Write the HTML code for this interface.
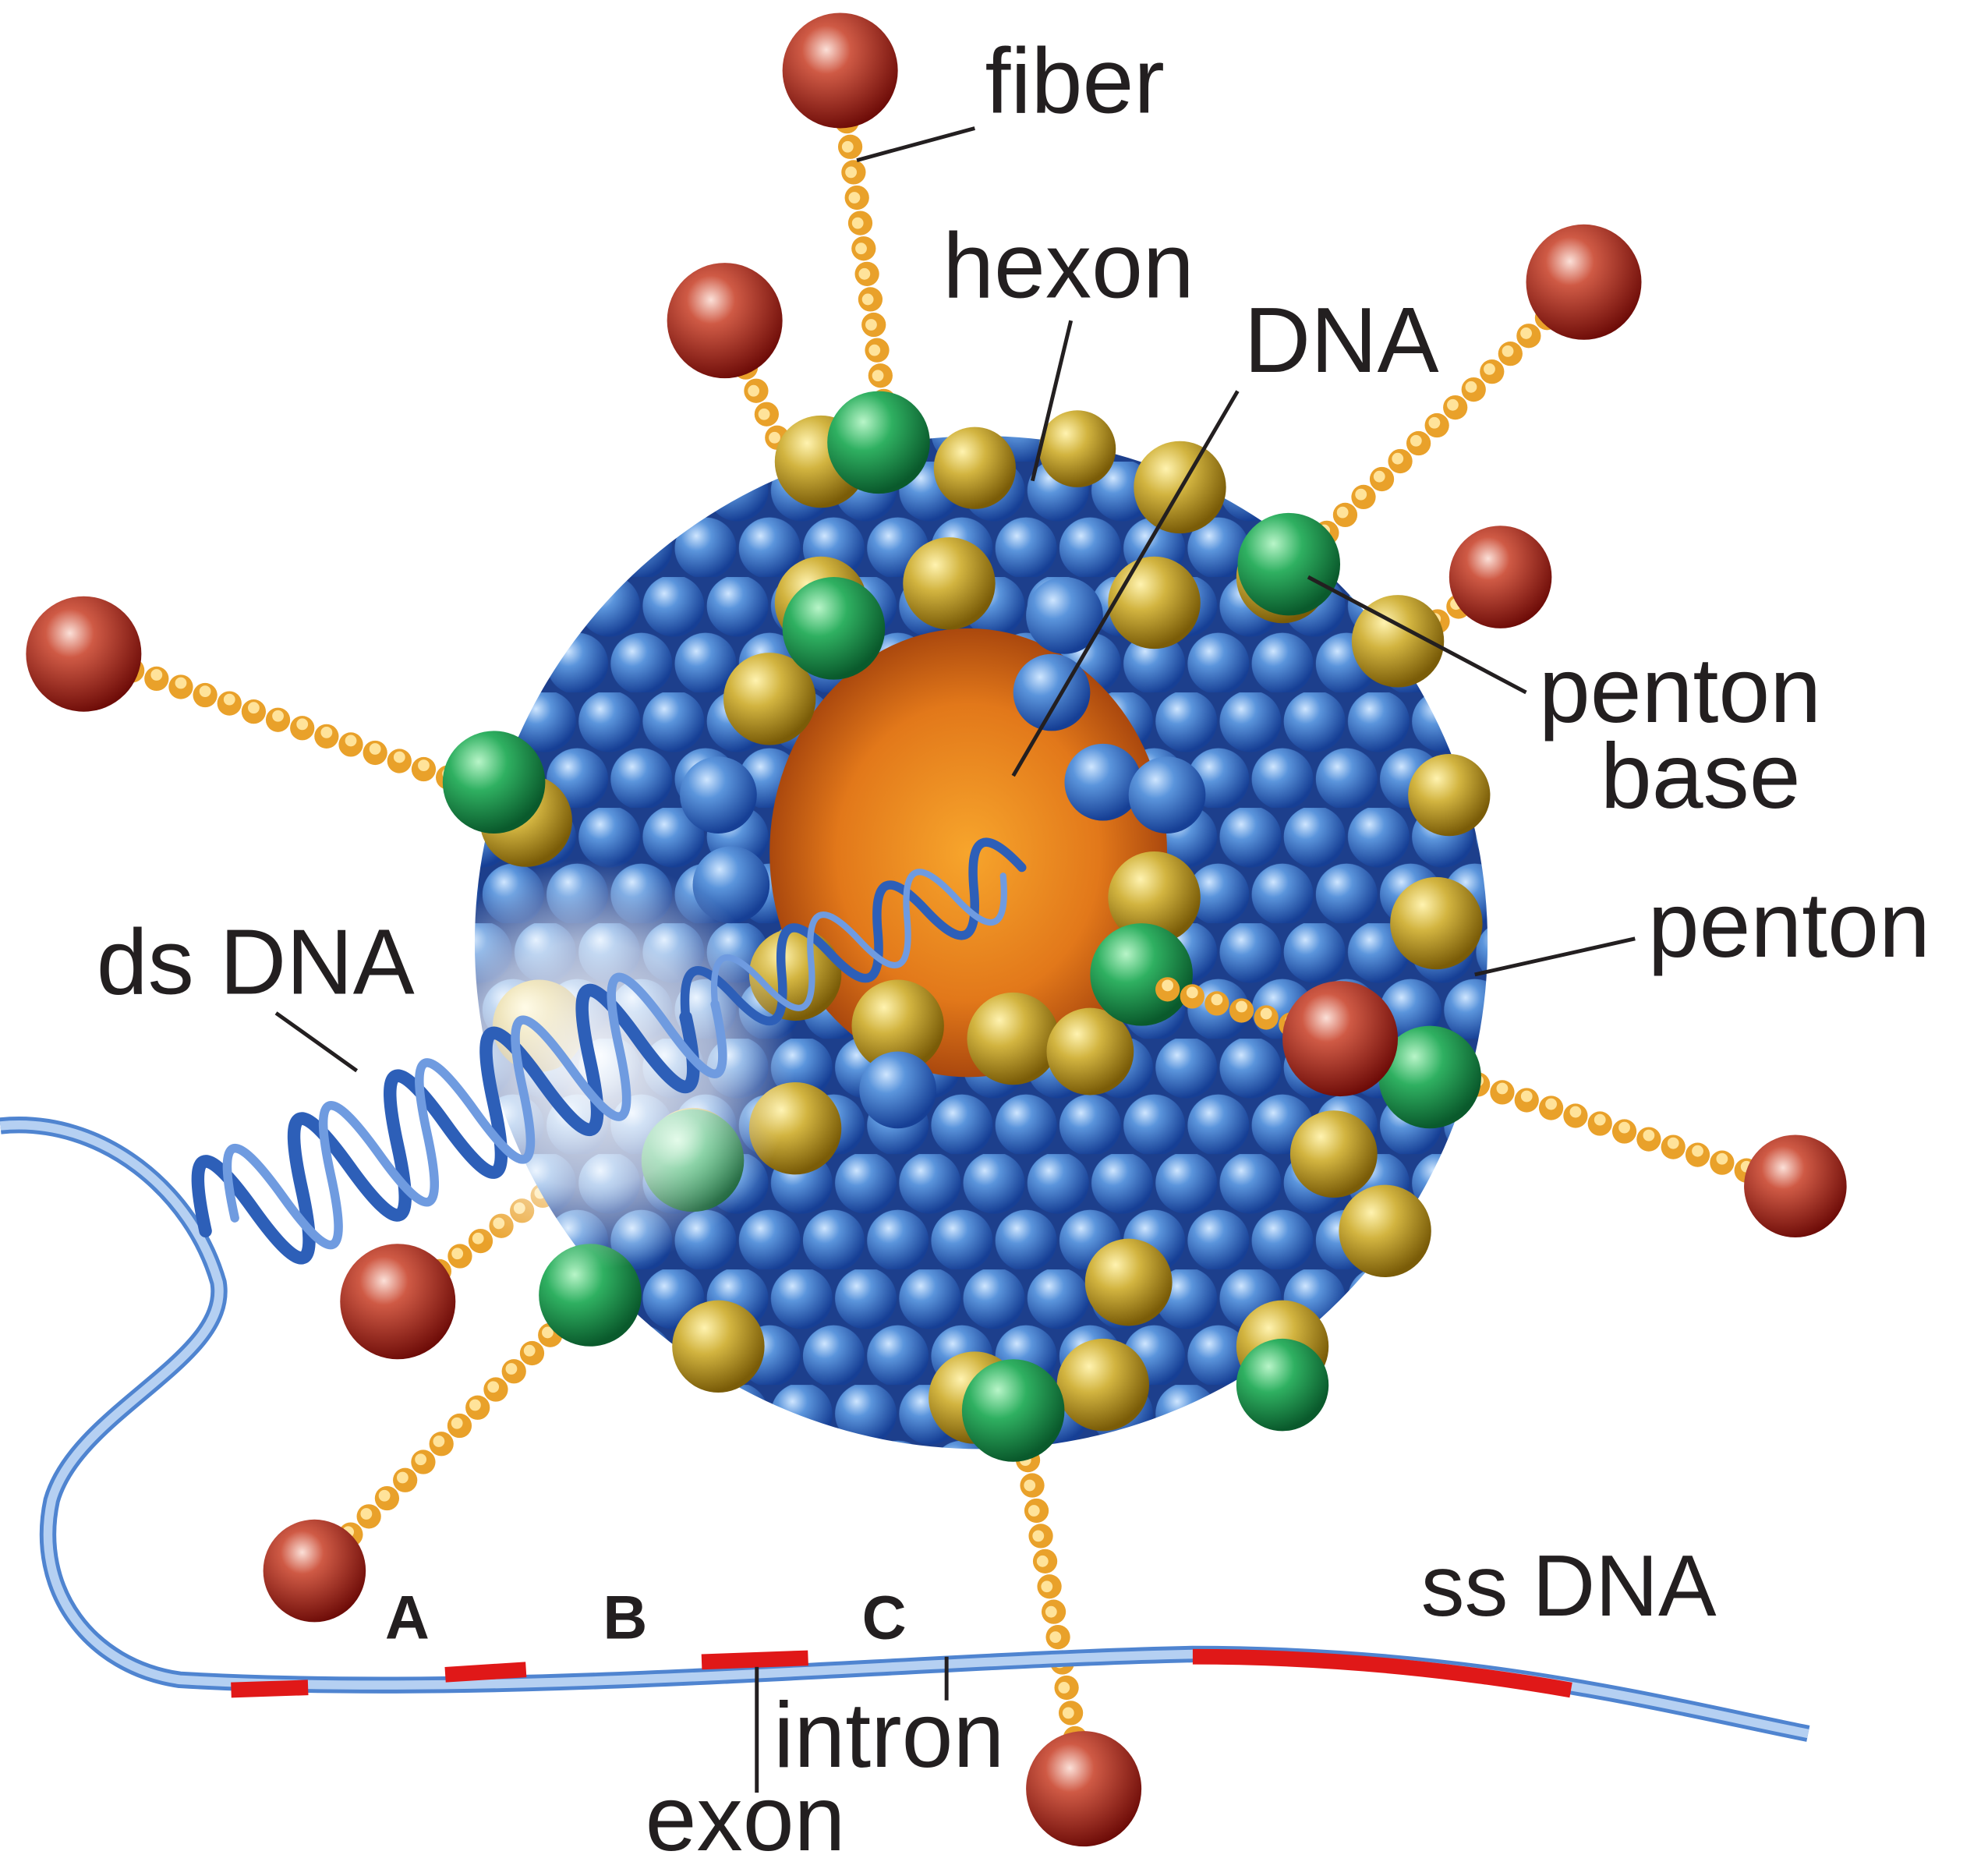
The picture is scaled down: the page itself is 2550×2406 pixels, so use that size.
<!DOCTYPE html>
<html><head><meta charset="utf-8">
<style>
html,body{margin:0;padding:0;background:#fff;}
svg{display:block;}
text{font-family:"Liberation Sans","DejaVu Sans",sans-serif;fill:#231f20;}
</style></head>
<body>
<svg width="2550" height="2406" viewBox="0 0 1550 1463" xmlns="http://www.w3.org/2000/svg">
<defs>
<radialGradient id="gb" cx="35%" cy="30%" r="70%"><stop offset="0" stop-color="#cfe6ff"/><stop offset="0.35" stop-color="#5b95dc"/><stop offset="1" stop-color="#163f95"/></radialGradient>
<radialGradient id="gg" cx="35%" cy="30%" r="70%"><stop offset="0" stop-color="#fff3b0"/><stop offset="0.4" stop-color="#d2b440"/><stop offset="1" stop-color="#7a5c08"/></radialGradient>
<radialGradient id="gn" cx="35%" cy="30%" r="70%"><stop offset="0" stop-color="#b8f5c8"/><stop offset="0.4" stop-color="#2fb061"/><stop offset="1" stop-color="#0a5a2c"/></radialGradient>
<radialGradient id="gr" cx="38%" cy="32%" r="70%"><stop offset="0" stop-color="#fbe0d8"/><stop offset="0.3" stop-color="#cf5a45"/><stop offset="1" stop-color="#6e0c08"/></radialGradient>
<radialGradient id="gc" cx="50%" cy="50%" r="55%"><stop offset="0" stop-color="#f7a52c"/><stop offset="0.6" stop-color="#e2781a"/><stop offset="1" stop-color="#9a3a0a"/></radialGradient>
<radialGradient id="gw" cx="50%" cy="50%" r="50%"><stop offset="0" stop-color="#fff" stop-opacity="0.95"/><stop offset="0.6" stop-color="#fff" stop-opacity="0.6"/><stop offset="1" stop-color="#fff" stop-opacity="0"/></radialGradient>
<pattern id="pb" width="50" height="90" patternUnits="userSpaceOnUse" x="0" y="0">
<rect width="50" height="90" fill="#1d3f8c"/>
<circle cx="25" cy="22.5" r="24" fill="url(#gb)"/>
<circle cx="0" cy="67.5" r="24" fill="url(#gb)"/>
<circle cx="50" cy="67.5" r="24" fill="url(#gb)"/>
</pattern>
</defs>

<!-- fibers -->
<g fill="none" stroke-linecap="round">
<g stroke="#e9a12a" stroke-width="19" stroke-dasharray="0 20">
<path d="M655,55 L690,320"/><path d="M565,250 L650,440"/><path d="M1235,220 L1030,420"/>
<path d="M1170,450 L1085,510"/><path d="M65,510 L360,610"/><path d="M1400,925 L1150,845"/>
<path d="M310,1015 L440,920"/><path d="M245,1225 L450,1020"/><path d="M845,1395 L800,1130"/>
</g>
<g stroke="#ffe39a" stroke-width="9" stroke-dasharray="0 20">
<path d="M653,55 L688,320"/><path d="M563,250 L648,440"/><path d="M1233,218 L1028,418"/>
<path d="M1168,448 L1083,508"/><path d="M65,507 L360,607"/><path d="M1400,922 L1150,842"/>
<path d="M308,1013 L438,918"/><path d="M243,1223 L448,1018"/><path d="M843,1395 L798,1130"/>
</g>
</g>
<g>
<circle cx="655" cy="55" r="45" fill="url(#gr)"/><circle cx="565" cy="250" r="45" fill="url(#gr)"/>
<circle cx="1235" cy="220" r="45" fill="url(#gr)"/><circle cx="1170" cy="450" r="40" fill="url(#gr)"/>
<circle cx="65" cy="510" r="45" fill="url(#gr)"/><circle cx="1400" cy="925" r="40" fill="url(#gr)"/>
<circle cx="310" cy="1015" r="45" fill="url(#gr)"/><circle cx="245" cy="1225" r="40" fill="url(#gr)"/>
<circle cx="845" cy="1395" r="45" fill="url(#gr)"/>
</g>

<!-- capsid -->
<circle cx="765" cy="735" r="395" fill="url(#pb)"/>
<ellipse cx="755" cy="665" rx="155" ry="175" fill="url(#gc)"/>
<g fill="url(#gg)">
<circle cx="600" cy="545" r="36"/><circle cx="640" cy="470" r="36"/><circle cx="740" cy="455" r="36"/>
<circle cx="900" cy="470" r="36"/><circle cx="900" cy="700" r="36"/><circle cx="790" cy="810" r="36"/>
<circle cx="700" cy="800" r="36"/><circle cx="620" cy="760" r="36"/><circle cx="1000" cy="450" r="36"/>
<circle cx="1090" cy="500" r="36"/><circle cx="1120" cy="720" r="36"/><circle cx="620" cy="880" r="36"/>
<circle cx="540" cy="900" r="36"/><circle cx="560" cy="1050" r="36"/><circle cx="760" cy="1090" r="36"/>
<circle cx="860" cy="1080" r="36"/><circle cx="1000" cy="1050" r="36"/><circle cx="1080" cy="960" r="36"/>
<circle cx="410" cy="640" r="36"/><circle cx="420" cy="800" r="36"/><circle cx="920" cy="380" r="36"/>
<circle cx="640" cy="360" r="36"/><circle cx="1040" cy="900" r="34"/><circle cx="880" cy="1000" r="34"/>
<circle cx="1130" cy="620" r="32"/><circle cx="760" cy="365" r="32"/><circle cx="840" cy="350" r="30"/>
<circle cx="850" cy="820" r="34"/>
</g>
<g fill="url(#gn)">
<circle cx="650" cy="490" r="40"/><circle cx="685" cy="345" r="40"/><circle cx="1005" cy="440" r="40"/>
<circle cx="890" cy="760" r="40"/><circle cx="1115" cy="840" r="40"/><circle cx="385" cy="610" r="40"/>
<circle cx="540" cy="905" r="40"/><circle cx="460" cy="1010" r="40"/><circle cx="790" cy="1100" r="40"/>
<circle cx="1000" cy="1080" r="36"/>
</g>
<g fill="url(#gb)">
<circle cx="830" cy="480" r="30"/><circle cx="820" cy="540" r="30"/><circle cx="860" cy="610" r="30"/>
<circle cx="910" cy="620" r="30"/><circle cx="700" cy="850" r="30"/><circle cx="560" cy="620" r="30"/>
<circle cx="570" cy="690" r="30"/>
</g>
<circle cx="460" cy="830" r="160" fill="url(#gw)"/>

<!-- penton fiber on front -->
<path d="M1045,810 L905,770" stroke="#e9a12a" stroke-width="19" stroke-dasharray="0 20" stroke-linecap="round" fill="none"/>
<path d="M1045,807 L905,767" stroke="#ffe39a" stroke-width="9" stroke-dasharray="0 20" stroke-linecap="round" fill="none"/>
<circle cx="1045" cy="810" r="45" fill="url(#gr)"/>

<!-- ss DNA ribbon -->
<path d="M0,878 C80,870 150,930 170,1000 C180,1060 60,1100 40,1170 C25,1240 70,1300 140,1310 C400,1325 700,1295 930,1290 C1150,1290 1300,1330 1410,1352" fill="none" stroke="#4f84d0" stroke-width="13"/>
<path d="M0,878 C80,870 150,930 170,1000 C180,1060 60,1100 40,1170 C25,1240 70,1300 140,1310 C400,1325 700,1295 930,1290 C1150,1290 1300,1330 1410,1352" fill="none" stroke="#b5d0f2" stroke-width="7"/>
<g stroke="#e01818" stroke-width="12" fill="none">
<path d="M180,1318 L240,1316"/><path d="M347,1306 L410,1302"/><path d="M547,1296 L630,1293"/><path d="M930,1292 C1050,1292 1150,1305 1225,1318"/>
</g>

<!-- ds DNA helix -->
<g transform="translate(160,960) rotate(-24)" fill="none" stroke-linecap="round">
<path d="M0,0 q20.5,-100 41,0 t41,0 t41,0 t41,0 t41,0 t41,0 t41,0 t41,0 t41,0 t41,0" stroke="#2d5fb8" stroke-width="10"/>
<path d="M410,0 q20.5,-60 41,0 t41,0 t41,0 t41,0 t41,0 t41,0 t41,0" stroke="#2d5fb8" stroke-width="7"/>
<path d="M25,0 q20.5,-100 41,0 t41,0 t41,0 t41,0 t41,0 t41,0 t41,0 t41,0 t41,0 t41,0" stroke="#6f9be0" stroke-width="7"/>
<path d="M435,0 q20.5,-60 41,0 t41,0 t41,0 t41,0 t41,0 t41,0" stroke="#6f9be0" stroke-width="5"/>
</g>

<!-- leader lines -->
<g stroke="#231f20" stroke-width="3" fill="none">
<path d="M760,100 L668,125"/><path d="M835,250 L805,375"/><path d="M965,305 L790,605"/>
<path d="M1190,540 L1020,450"/><path d="M1275,732 L1150,760"/><path d="M215,790 L278,835"/>
<path d="M738,1292 L738,1326"/><path d="M590,1300 L590,1398"/>
</g>
<g font-size="72">
<text x="768" y="88">fiber</text>
<text x="735" y="232">hexon</text>
<text x="970" y="290">DNA</text>
<text x="1200" y="563">penton</text>
<text x="1248" y="630">base</text>
<text x="1285" y="746">penton</text>
<text x="75" y="775">ds DNA</text>
<text x="1108" y="1260" font-size="68">ss DNA</text>
<text x="603" y="1378">intron</text>
<text x="503" y="1443">exon</text>
</g>
<g font-size="48" font-weight="bold">
<text x="300" y="1278">A</text><text x="470" y="1278">B</text><text x="672" y="1278">C</text>
</g>
</svg>
</body></html>
